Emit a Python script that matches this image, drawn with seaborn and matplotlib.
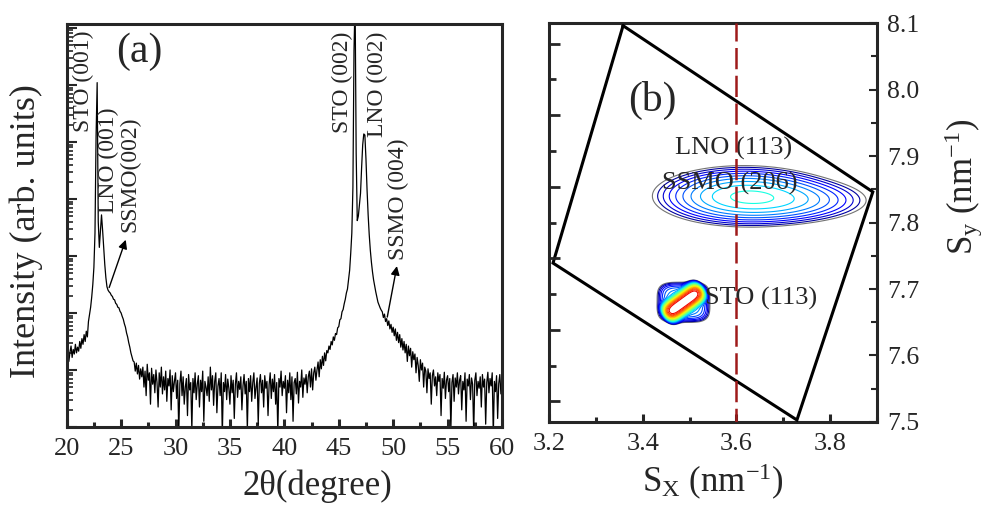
import numpy as np
import pandas as pd
import matplotlib
matplotlib.use("Agg")
import matplotlib.pyplot as plt
import seaborn as sns
from matplotlib.ticker import MultipleLocator, LogLocator, NullFormatter, FormatStrFormatter

# ---------------- data: panel (a) XRD theta-2theta scan ----------------
two_theta = np.round(np.arange(200, 601) / 10.0, 1)   # scan grid, 0.1 deg steps
log_intensity = np.array([
    2.20, 2.38, 2.15, 2.31, 2.42, 2.22, 2.36, 2.28, 2.45, 2.30,   # 20
    2.40, 2.33, 2.50, 2.38, 2.55, 2.45, 2.62, 2.50, 2.68, 2.58,   # 21
    2.85, 2.98, 3.10, 3.28, 3.50, 3.80, 4.40, 6.10, 7.04, 4.60,   # 22
    4.15, 4.45, 4.72, 4.45, 4.15, 3.85, 3.62, 3.46, 3.40, 3.37,   # 23
    3.35, 3.31, 3.29, 3.24, 3.23, 3.17, 3.15, 3.10, 3.09, 3.03,   # 24
    3.00, 2.94, 2.89, 2.81, 2.75, 2.65, 2.58, 2.48, 2.40, 2.30,   # 25
    2.23, 2.16, 2.14, 1.98, 2.12, 1.93, 2.08, 1.84, 2.02, 1.88,   # 26
    2.05, 1.70, 1.98, 1.55, 2.10, 1.82, 1.95, 1.40, 2.03, 1.75,   # 27
    1.92, 1.60, 2.00, 1.78, 1.35, 1.95, 1.70, 2.05, 1.58, 1.88,   # 28
    1.65, 1.98, 1.45, 1.85, 1.72, 2.00, 1.30, 1.90, 1.62, 1.80,   # 29
    1.95, 1.50, 1.82, 0.90, 1.76, 1.98, 1.55, 1.88, 1.40, 1.70,   # 30
    1.85, 1.20, 1.92, 1.65, 1.78, 0.95, 1.85, 1.60, 1.95, 1.48,   # 31
    1.75, 1.90, 1.35, 1.82, 1.62, 1.98, 1.10, 1.80, 1.70, 1.55,   # 32
    1.88, 1.45, 2.05, 1.65, 1.90, 1.38, 1.80, 1.95, 1.25, 1.72,   # 33
    1.85, 1.55, 1.95, 0.85, 1.78, 1.62, 1.92, 1.48, 1.84, 1.68,   # 34
    1.40, 1.90, 1.60, 1.82, 1.15, 1.75, 1.95, 1.52, 1.80, 1.66,   # 35
    1.88, 1.30, 1.72, 1.92, 1.58, 1.80, 0.95, 1.85, 1.62, 1.90,   # 36
    1.45, 1.78, 1.95, 1.50, 1.70, 1.86, 1.05, 1.76, 1.92, 1.60,   # 37
    1.82, 1.35, 1.90, 1.68, 1.80, 1.20, 1.74, 1.95, 1.50, 1.84,   # 38
    1.62, 1.92, 1.40, 1.78, 0.90, 1.85, 1.70, 1.98, 1.55, 1.80,   # 39
    1.68, 1.90, 1.25, 1.82, 1.60, 1.95, 1.48, 1.88, 1.10, 1.78,   # 40
    1.85, 1.58, 1.96, 1.42, 1.80, 1.70, 2.00, 1.52, 1.86, 1.75,   # 41
    1.92, 1.60, 1.88, 1.98, 1.70, 2.02, 1.65, 1.95, 2.05, 1.82,   # 42
    2.00, 2.14, 1.88, 2.18, 2.02, 2.24, 2.08, 2.30, 2.16, 2.34,   # 43
    2.30, 2.42, 2.36, 2.50, 2.44, 2.58, 2.52, 2.64, 2.62, 2.74,   # 44
    2.76, 2.88, 2.90, 3.02, 3.06, 3.16, 3.24, 3.35, 3.42, 3.58,   # 45
    3.75, 4.05, 4.40, 5.20, 7.60, 8.50, 5.80, 4.62, 4.70, 4.90,   # 46
    5.10, 5.55, 5.95, 6.14, 6.12, 5.70, 5.16, 4.72, 4.37, 4.10,   # 47
    3.89, 3.72, 3.58, 3.47, 3.37, 3.28, 3.19, 3.14, 3.09, 3.05,   # 48
    3.02, 2.92, 2.98, 2.85, 2.90, 2.78, 2.86, 2.72, 2.80, 2.66,   # 49
    2.75, 2.60, 2.72, 2.52, 2.66, 2.48, 2.62, 2.40, 2.55, 2.35,   # 50
    2.50, 2.30, 2.45, 2.15, 2.42, 2.25, 2.38, 2.05, 2.32, 2.18,   # 51
    2.28, 1.95, 2.22, 2.08, 1.80, 2.18, 2.00, 2.12, 1.70, 2.05,   # 52
    1.98, 1.60, 2.02, 1.85, 1.95, 1.40, 1.90, 2.00, 1.72, 1.88,   # 53
    1.55, 1.95, 1.80, 1.92, 1.20, 1.85, 1.68, 1.96, 1.50, 1.82,   # 54
    1.90, 1.62, 1.85, 0.95, 1.78, 1.92, 1.45, 1.86, 1.70, 1.95,   # 55
    1.58, 1.82, 1.90, 1.30, 1.80, 1.65, 1.95, 1.10, 1.84, 1.72,   # 56
    1.92, 1.48, 1.86, 1.75, 0.90, 1.82, 1.95, 1.55, 1.80, 1.68,   # 57
    1.88, 1.35, 1.92, 1.70, 1.84, 1.05, 1.78, 1.96, 1.60, 1.85,   # 58
    1.72, 1.95, 0.85, 1.80, 1.62, 1.90, 1.15, 1.76, 1.92, 1.58,   # 59
    1.80,                                                         # 60
])

# ---------------- data: panel (b) reciprocal space map ----------------
# peak components: centre Sx, centre Sy, amplitude
ssmo_cx = [3.615, 3.700]
ssmo_cy = [7.840, 7.833]
ssmo_amp = [0.12, 0.05]
ssmo_wx_px = [36, 38]      # widths (in picture pixels)
ssmo_wy_px = [12, 10]
sto_cx, sto_cy = 3.487, 7.680
sto_core_amp, sto_halo_amp = 20.0, 0.06
# measurable (accessible) region boundary
rect_sx = [3.358, 3.891, 3.729, 3.2085, 3.358]
rect_sy = [8.096, 7.846, 7.503, 7.739, 8.096]
sx_ref = 3.6

# ---------------- style ----------------
sns.set_style("ticks")
plt.rcParams["font.family"] = ["Liberation Serif", "DejaVu Serif"]
plt.rcParams["mathtext.fontset"] = "custom"
plt.rcParams["mathtext.rm"] = "Liberation Serif"
plt.rcParams["mathtext.it"] = "Liberation Serif:italic"
plt.rcParams["axes.linewidth"] = 2.2
plt.rcParams["axes.unicode_minus"] = False

fig = plt.figure(figsize=(9.88, 5.15), dpi=100)
ax1 = fig.add_axes([0.0675, 0.1709, 0.4406, 0.7825])
ax2 = fig.add_axes([0.5557, 0.1806, 0.3320, 0.7747])

# ---------------- panel (a) ----------------
df = pd.DataFrame({"two_theta": two_theta, "intensity": 10 ** log_intensity})
ax1.set_yscale("log")
sns.lineplot(data=df, x="two_theta", y="intensity", ax=ax1, color="black",
             lw=0.9, estimator=None, sort=True)
ax1.set_xlim(20, 60)
ax1.set_ylim(10, 1.17e8)
ax1.xaxis.set_major_locator(MultipleLocator(5))
ax1.xaxis.set_minor_locator(MultipleLocator(2.5))
ax1.yaxis.set_major_locator(LogLocator(base=10, numticks=20))
ax1.yaxis.set_minor_locator(LogLocator(base=10, subs=np.arange(2, 10), numticks=200))
ax1.yaxis.set_major_formatter(NullFormatter())
ax1.yaxis.set_minor_formatter(NullFormatter())
ax1.tick_params(axis="x", which="major", direction="in", length=6, width=2.2,
                labelsize=19, pad=8, top=False)
ax1.tick_params(axis="x", which="minor", direction="in", length=3.5, width=2.2, top=False)
ax1.tick_params(axis="y", which="major", direction="in", length=7, width=1.5,
                left=True, right=False, labelleft=False)
ax1.tick_params(axis="y", which="minor", direction="in", length=4, width=1.2,
                left=True, right=False)
ax1.set_xlabel("2θ(degree)", fontsize=25)
ax1.set_ylabel("Intensity (arb. units)", fontsize=26)
ax1.xaxis.set_label_coords(0.575, -0.105)
ax1.yaxis.set_label_coords(-0.055, 0.485)

ax1.text(26.7, 10 ** 7.58, "(a)", fontsize=30, ha="center", va="center")
ann_kw = dict(rotation=90, ha="center", va="bottom", fontsize=17, clip_on=True)
ax1.text(21.5, 10 ** 6.175, "STO (001)", **ann_kw)
ax1.text(23.8, 10 ** 4.754, "LNO (001)", **ann_kw)
ax1.text(25.82, 10 ** 4.42, "SSMO(002)", **ann_kw)
ax1.text(45.3, 10 ** 6.158, "STO (002)", **ann_kw)
ax1.text(48.52, 10 ** 6.088, "LNO (002)", **ann_kw)
ax1.text(50.45, 10 ** 3.93, "SSMO (004)", **ann_kw)
arrow = dict(arrowstyle="-|>", color="black", lw=1.0, mutation_scale=13)
ax1.annotate("", xy=(25.51, 10 ** 4.33), xytext=(23.82, 10 ** 3.40), arrowprops=arrow)
ax1.annotate("", xy=(50.39, 10 ** 3.87), xytext=(49.41, 10 ** 2.88), arrowprops=arrow)

# ---------------- panel (b) ----------------
sx_per_px = 0.7 / 328.0
sy_per_px = 0.6 / 399.0
sx = np.linspace(3.2, 3.9, 700)
sy = np.linspace(7.5, 8.1, 600)
SX, SY = np.meshgrid(sx, sy)

Z = np.zeros_like(SX)
for cx, cy, a, wx, wy in zip(ssmo_cx, ssmo_cy, ssmo_amp, ssmo_wx_px, ssmo_wy_px):
    dx = (SX - cx) / sx_per_px
    dy = (SY - cy) / sy_per_px
    Z += a * np.exp(-0.5 * (dx / wx) ** 2 - 0.5 * (dy / wy) ** 2)

dx = (SX - sto_cx) / sx_per_px
dy = (SY - sto_cy) / sy_per_px
ang = np.deg2rad(36)
u = dx * np.cos(ang) + dy * np.sin(ang)
v = -dx * np.sin(ang) + dy * np.cos(ang)
Z += sto_core_amp * np.exp(-np.abs(u / 18.0) ** 6 - 0.5 * (v / 3.5) ** 2)
Z += sto_halo_amp * np.exp(-np.abs(dx / 21.0) ** 4 - np.abs(dy / 16.0) ** 4)

levels = np.geomspace(0.005, 10, 22)
cmap = plt.get_cmap("jet")
colors = ["0.45"] + [cmap(t) for t in np.linspace(0.03, 0.9, len(levels) - 1)]
ax2.contour(SX, SY, Z, levels=levels, colors=colors, linewidths=0.8, zorder=2)

ax2.text(3.42, 7.984, "(b)", fontsize=30, ha="center", va="center")
ax2.text(3.593, 7.912, "LNO (113)", fontsize=19, ha="center", va="center", zorder=3)
ax2.text(3.586, 7.859, "SSMO (206)", fontsize=19, ha="center", va="center", zorder=3)
ax2.text(3.533, 7.686, "STO (113)", fontsize=19, ha="left", va="center", zorder=3)

ax2.plot(rect_sx, rect_sy, color="black", lw=2.2, zorder=4, solid_joinstyle="miter")
ax2.axvline(sx_ref, color="#9e1a1a", lw=1.8, linestyle=(3, (8.5, 2.6)), zorder=5)

ax2.set_xlim(3.2, 3.9)
ax2.set_ylim(7.5, 8.1)

# left-side ticks of panel (b) (independent scale, no labels)
axl = ax2.twinx()
axl.set_ylim(-0.573, 10.573)
axl.yaxis.tick_left()
axl.yaxis.set_major_locator(MultipleLocator(2))
axl.yaxis.set_minor_locator(MultipleLocator(1))
axl.yaxis.set_major_formatter(NullFormatter())
axl.yaxis.set_minor_formatter(NullFormatter())
axl.tick_params(axis="y", which="major", direction="in", length=8, width=2.0,
                left=True, right=False, labelleft=False, labelright=False)
axl.tick_params(axis="y", which="minor", direction="in", length=5, width=2.0,
                left=True, right=False)
for sp in axl.spines.values():
    sp.set_visible(False)

ax2.xaxis.set_major_locator(MultipleLocator(0.2))
ax2.xaxis.set_minor_locator(MultipleLocator(0.1))
ax2.xaxis.set_major_formatter(FormatStrFormatter("%.1f"))
ax2.yaxis.tick_right()
ax2.yaxis.set_label_position("right")
ax2.yaxis.set_major_locator(MultipleLocator(0.1))
ax2.yaxis.set_minor_locator(MultipleLocator(0.05))
ax2.yaxis.set_major_formatter(FormatStrFormatter("%.1f"))
ax2.tick_params(axis="x", which="major", direction="in", length=6, width=2.2,
                labelsize=19, pad=8, top=False)
ax2.tick_params(axis="x", which="minor", direction="in", length=3.5, width=2.2, top=False)
ax2.tick_params(axis="y", which="major", direction="in", length=6, width=1.5,
                labelsize=18.5, pad=7, left=False, right=True,
                labelleft=False, labelright=True)
ax2.tick_params(axis="y", which="minor", direction="in", length=4, width=1.5,
                left=False, right=True)
ax2.set_xlabel(r"S$_\mathregular{X}$ (nm$^\mathregular{-1}$)", fontsize=25)
ax2.set_ylabel(r"S$_\mathregular{y}$ (nm$^\mathregular{-1}$)", fontsize=25)
ax2.xaxis.set_label_coords(0.5, -0.10)
ax2.yaxis.set_label_coords(1.20, 0.59)

fig.savefig("out.png", dpi=100)
